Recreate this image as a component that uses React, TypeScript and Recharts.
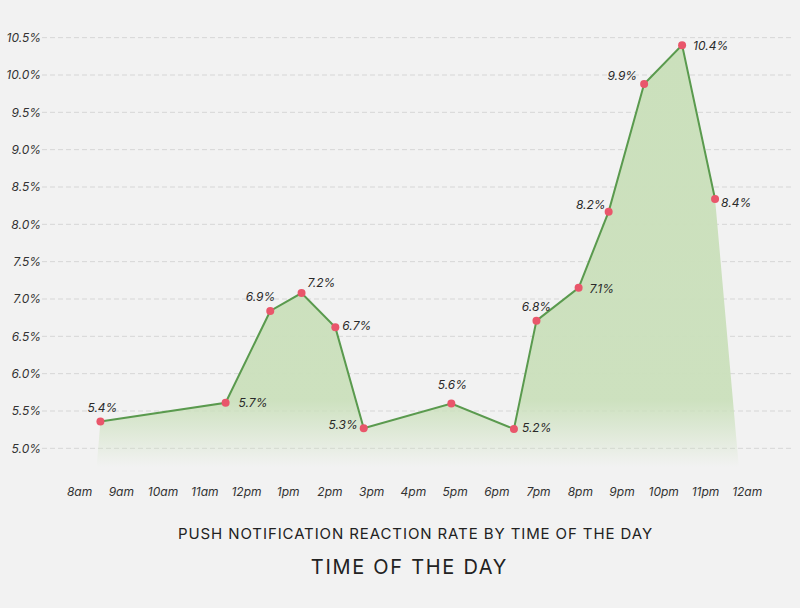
import React from 'react';
import { ComposedChart, Area, Line, XAxis, YAxis, CartesianGrid } from 'recharts';

// Data
const hours = [8.5, 11.5, 12.57, 13.32, 14.13, 14.81, 16.91, 18.41, 18.95, 19.96, 20.68, 21.53, 22.44, 23.23];
const rates = [5.36, 5.61, 6.84, 7.08, 6.62, 5.27, 5.6, 5.26, 6.71, 7.15, 8.17, 9.88, 10.4, 8.34];
const rateLabels = ['5.4%', '5.7%', '6.9%', '7.2%', '6.7%', '5.3%', '5.6%', '5.2%', '6.8%', '7.1%', '8.2%', '9.9%', '10.4%', '8.4%'];
const hourTicks = [8, 9, 10, 11, 12, 13, 14, 15, 16, 17, 18, 19, 20, 21, 22, 23, 24];
const hourTickLabels = ['8am', '9am', '10am', '11am', '12pm', '1pm', '2pm', '3pm', '4pm', '5pm', '6pm', '7pm', '8pm', '9pm', '10pm', '11pm', '12am'];
const rateTicks = [5, 5.5, 6, 6.5, 7, 7.5, 8, 8.5, 9, 9.5, 10, 10.5];
const fillStart = { hour: 8.41, rate: 4.75 };
const fillEnd = { hour: 23.8, rate: 4.75 };

const chartTitle = 'PUSH NOTIFICATION REACTION RATE BY TIME OF THE DAY';
const axisTitle = 'TIME OF THE DAY';

// label placement (style)
const labelPlacement = [
  { anchor: 'middle', dx: 2, dy: -14 },
  { anchor: 'start', dx: 13, dy: 0 },
  { anchor: 'end', dx: 5, dy: -14 },
  { anchor: 'start', dx: 6, dy: -11 },
  { anchor: 'start', dx: 7, dy: -2 },
  { anchor: 'end', dx: -6, dy: -4 },
  { anchor: 'middle', dx: 1, dy: -19 },
  { anchor: 'start', dx: 8, dy: -1 },
  { anchor: 'middle', dx: 0, dy: -14 },
  { anchor: 'start', dx: 11, dy: 1 },
  { anchor: 'end', dx: -3, dy: -7 },
  { anchor: 'end', dx: -7, dy: -8 },
  { anchor: 'start', dx: 11, dy: 0 },
  { anchor: 'start', dx: 6, dy: 4 },
];

const lineData = hours.map((h, i) => ({ hour: h, rate: rates[i] }));
const fillData = [fillStart, ...lineData, fillEnd];

const FONT = 'Inter, "Noto Sans", sans-serif';

const renderLabel = (props: any) => {
  const { x, y, index } = props;
  const p = labelPlacement[index] || { anchor: 'middle', dx: 0, dy: -12 };
  return (
    <text
      key={`lbl-${index}`}
      x={x + p.dx}
      y={y + p.dy}
      textAnchor={p.anchor}
      dominantBaseline="central"
      fontFamily={FONT}
      fontStyle="italic"
      fontSize={12}
      fill="#2a2a2a"
    >
      {rateLabels[index]}
    </text>
  );
};

export default function App() {
  return (
    <div style={{ position: 'fixed', top: 0, left: 0, width: 800, height: 608, background: '#f2f2f2', overflow: 'hidden' }}>
      <ComposedChart width={800} height={608} margin={{ top: 19, right: 9, left: 0, bottom: 111 }}>
        <defs>
          <linearGradient id="fillGrad" x1="0" y1="0" x2="0" y2="1">
            <stop offset="0" stopColor="#cbe0bc" stopOpacity={1} />
            <stop offset="0.84" stopColor="#cbe0bc" stopOpacity={0.95} />
            <stop offset="1" stopColor="#cbe0bc" stopOpacity={0} />
          </linearGradient>
        </defs>
        <CartesianGrid
          vertical={false}
          horizontalValues={rateTicks}
          syncWithTicks={false}
          stroke="#d6d6d6"
          strokeDasharray="5 3"
        />
        <XAxis
          type="number"
          dataKey="hour"
          domain={[7.1, 25.05]}
          allowDataOverflow
          ticks={hourTicks}
          tickFormatter={(v: number) => hourTickLabels[hourTicks.indexOf(v)] ?? ''}
          axisLine={false}
          tickLine={false}
          tickSize={0}
          tickMargin={20}
          height={30}
          tick={{ fontFamily: FONT, fontStyle: 'italic', fontSize: 12, fill: '#333' }}
          interval={0}
        />
        <YAxis
          type="number"
          domain={[4.75, 10.75]}
          allowDataOverflow
          ticks={rateTicks}
          tickFormatter={(v: number) => v.toFixed(1) + '%'}
          axisLine={false}
          tickLine={false}
          tickSize={0}
          tickMargin={1}
          width={42}
          tick={{ fontFamily: FONT, fontStyle: 'italic', fontSize: 12, fill: '#333' }}
          interval={0}
        />
        <Area
          data={fillData}
          dataKey="rate"
          type="linear"
          baseValue={4.75}
          stroke="none"
          fill="url(#fillGrad)"
          fillOpacity={1}
          isAnimationActive={false}
          dot={false}
          activeDot={false}
        />
        <Line
          data={lineData}
          dataKey="rate"
          type="linear"
          stroke="#5a9a4e"
          strokeWidth={2}
          dot={{ r: 4, fill: '#e9566b', stroke: '#e9566b', strokeWidth: 0 }}
          activeDot={false}
          label={renderLabel}
          isAnimationActive={false}
        />
      </ComposedChart>
      <div
        style={{
          position: 'absolute', left: 0, top: 524, width: 831, textAlign: 'center',
          fontFamily: FONT, fontSize: 15, lineHeight: '20px', color: '#222', letterSpacing: 0.9,
        }}
      >
        {chartTitle}
      </div>
      <div
        style={{
          position: 'absolute', left: 0, top: 555, width: 819, textAlign: 'center',
          fontFamily: FONT, fontSize: 20, lineHeight: '24px', color: '#222', letterSpacing: 1.7,
        }}
      >
        {axisTitle}
      </div>
    </div>
  );
}
